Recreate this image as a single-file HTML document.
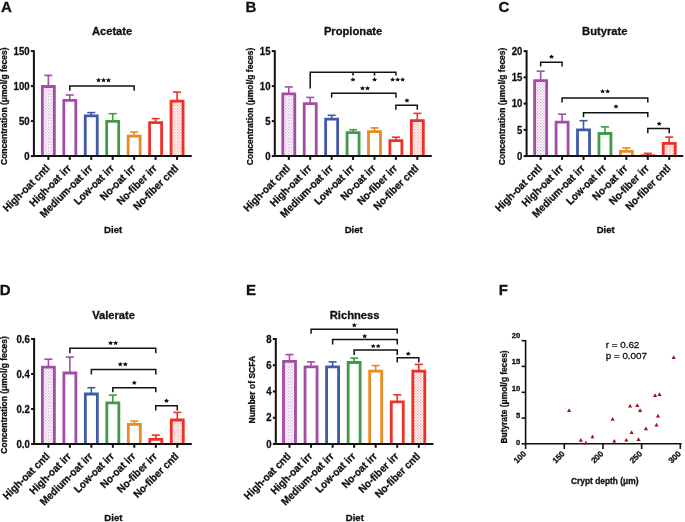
<!DOCTYPE html>
<html><head><meta charset="utf-8"><style>
html,body{margin:0;padding:0;background:#fff;}
body{width:685px;height:522px;overflow:hidden;}
svg{display:block;filter:blur(0.3px);}
text{stroke:#111;stroke-width:0.3px;}
</style></head><body>
<svg width="685" height="522" viewBox="0 0 685 522" font-family="'Liberation Sans', sans-serif" fill="#111">
<rect width="685" height="522" fill="#fff"/>
<defs><pattern id="pat0" width="3" height="3" patternUnits="userSpaceOnUse"><rect width="3" height="3" fill="#fff"/><rect x="0" y="0" width="1.5" height="1.5" fill="#A44BA8" fill-opacity="0.40"/><rect x="1.5" y="1.5" width="1.5" height="1.5" fill="#A44BA8" fill-opacity="0.26"/></pattern><pattern id="pat1" width="3" height="3" patternUnits="userSpaceOnUse"><rect width="3" height="3" fill="#fff"/><rect x="0" y="0" width="1.5" height="1.5" fill="#EE3026" fill-opacity="0.40"/><rect x="1.5" y="1.5" width="1.5" height="1.5" fill="#EE3026" fill-opacity="0.26"/></pattern></defs>
<line x1="48.35" y1="75.40" x2="48.35" y2="86.50" stroke="#A44BA8" stroke-width="1.6"/>
<line x1="44.35" y1="75.40" x2="52.35" y2="75.40" stroke="#A44BA8" stroke-width="1.6"/>
<rect x="42.35" y="86.50" width="12.00" height="69.60" fill="url(#pat0)"/>
<path d="M42.35 156.10V86.50H54.35V156.10" fill="none" stroke="#A44BA8" stroke-width="2.8"/>
<line x1="69.80" y1="95.00" x2="69.80" y2="100.40" stroke="#A44BA8" stroke-width="1.6"/>
<line x1="65.80" y1="95.00" x2="73.80" y2="95.00" stroke="#A44BA8" stroke-width="1.6"/>
<rect x="63.80" y="100.40" width="12.00" height="55.70" fill="#fff"/>
<path d="M63.80 156.10V100.40H75.80V156.10" fill="none" stroke="#A44BA8" stroke-width="2.8"/>
<line x1="91.25" y1="112.60" x2="91.25" y2="115.80" stroke="#405AA8" stroke-width="1.6"/>
<line x1="87.25" y1="112.60" x2="95.25" y2="112.60" stroke="#405AA8" stroke-width="1.6"/>
<rect x="85.25" y="115.80" width="12.00" height="40.30" fill="#fff"/>
<path d="M85.25 156.10V115.80H97.25V156.10" fill="none" stroke="#405AA8" stroke-width="2.8"/>
<line x1="112.70" y1="113.70" x2="112.70" y2="121.30" stroke="#3E9C48" stroke-width="1.6"/>
<line x1="108.70" y1="113.70" x2="116.70" y2="113.70" stroke="#3E9C48" stroke-width="1.6"/>
<rect x="106.70" y="121.30" width="12.00" height="34.80" fill="#fff"/>
<path d="M106.70 156.10V121.30H118.70V156.10" fill="none" stroke="#3E9C48" stroke-width="2.8"/>
<line x1="134.15" y1="132.00" x2="134.15" y2="136.10" stroke="#E68C22" stroke-width="1.6"/>
<line x1="130.15" y1="132.00" x2="138.15" y2="132.00" stroke="#E68C22" stroke-width="1.6"/>
<rect x="128.15" y="136.10" width="12.00" height="20.00" fill="#fff"/>
<path d="M128.15 156.10V136.10H140.15V156.10" fill="none" stroke="#E68C22" stroke-width="2.8"/>
<line x1="155.60" y1="118.60" x2="155.60" y2="122.60" stroke="#EE3026" stroke-width="1.6"/>
<line x1="151.60" y1="118.60" x2="159.60" y2="118.60" stroke="#EE3026" stroke-width="1.6"/>
<rect x="149.60" y="122.60" width="12.00" height="33.50" fill="#fff"/>
<path d="M149.60 156.10V122.60H161.60V156.10" fill="none" stroke="#EE3026" stroke-width="2.8"/>
<line x1="177.05" y1="92.10" x2="177.05" y2="101.20" stroke="#EE3026" stroke-width="1.6"/>
<line x1="173.05" y1="92.10" x2="181.05" y2="92.10" stroke="#EE3026" stroke-width="1.6"/>
<rect x="171.05" y="101.20" width="12.00" height="54.90" fill="url(#pat1)"/>
<path d="M171.05 156.10V101.20H183.05V156.10" fill="none" stroke="#EE3026" stroke-width="2.8"/>
<path d="M33.90 50.20V156.10H191.70" fill="none" stroke="#111" stroke-width="2.0"/>
<line x1="30.90" y1="51.10" x2="33.90" y2="51.10" stroke="#111" stroke-width="2.0"/>
<text transform="translate(29.60,54.75) scale(0.914,1)" text-anchor="end" font-size="10.5" font-weight="bold">150</text>
<line x1="30.90" y1="86.10" x2="33.90" y2="86.10" stroke="#111" stroke-width="2.0"/>
<text transform="translate(29.60,89.75) scale(0.914,1)" text-anchor="end" font-size="10.5" font-weight="bold">100</text>
<line x1="30.90" y1="121.10" x2="33.90" y2="121.10" stroke="#111" stroke-width="2.0"/>
<text transform="translate(29.60,124.75) scale(0.914,1)" text-anchor="end" font-size="10.5" font-weight="bold">50</text>
<line x1="30.90" y1="156.10" x2="33.90" y2="156.10" stroke="#111" stroke-width="2.0"/>
<text transform="translate(29.60,159.75) scale(0.914,1)" text-anchor="end" font-size="10.5" font-weight="bold">0</text>
<line x1="48.35" y1="156.10" x2="48.35" y2="159.90" stroke="#111" stroke-width="2.0"/>
<text transform="translate(50.35,169.10) rotate(-45) scale(0.943,1)" text-anchor="end" font-size="10.6" font-weight="bold">High-oat cntl</text>
<line x1="69.80" y1="156.10" x2="69.80" y2="159.90" stroke="#111" stroke-width="2.0"/>
<text transform="translate(71.80,169.10) rotate(-45) scale(0.943,1)" text-anchor="end" font-size="10.6" font-weight="bold">High-oat irr</text>
<line x1="91.25" y1="156.10" x2="91.25" y2="159.90" stroke="#111" stroke-width="2.0"/>
<text transform="translate(93.25,169.10) rotate(-45) scale(0.943,1)" text-anchor="end" font-size="10.6" font-weight="bold">Medium-oat irr</text>
<line x1="112.70" y1="156.10" x2="112.70" y2="159.90" stroke="#111" stroke-width="2.0"/>
<text transform="translate(114.70,169.10) rotate(-45) scale(0.943,1)" text-anchor="end" font-size="10.6" font-weight="bold">Low-oat irr</text>
<line x1="134.15" y1="156.10" x2="134.15" y2="159.90" stroke="#111" stroke-width="2.0"/>
<text transform="translate(136.15,169.10) rotate(-45) scale(0.943,1)" text-anchor="end" font-size="10.6" font-weight="bold">No-oat irr</text>
<line x1="155.60" y1="156.10" x2="155.60" y2="159.90" stroke="#111" stroke-width="2.0"/>
<text transform="translate(157.60,169.10) rotate(-45) scale(0.943,1)" text-anchor="end" font-size="10.6" font-weight="bold">No-fiber irr</text>
<line x1="177.05" y1="156.10" x2="177.05" y2="159.90" stroke="#111" stroke-width="2.0"/>
<text transform="translate(179.05,169.10) rotate(-45) scale(0.943,1)" text-anchor="end" font-size="10.6" font-weight="bold">No-fiber cntl</text>
<path d="M69.80 90.80V86.10H134.15V90.80" fill="none" stroke="#111" stroke-width="1.5"/>
<polygon points="98.50,77.87 99.29,79.27 101.06,79.50 99.78,80.59 100.08,82.13 98.50,81.40 96.92,82.13 97.22,80.59 95.94,79.50 97.71,79.27" fill="#111"/>
<polygon points="103.50,77.87 104.29,79.27 106.06,79.50 104.78,80.59 105.08,82.13 103.50,81.40 101.92,82.13 102.22,80.59 100.94,79.50 102.71,79.27" fill="#111"/>
<polygon points="108.50,77.87 109.29,79.27 111.06,79.50 109.78,80.59 110.08,82.13 108.50,81.40 106.92,82.13 107.22,80.59 105.94,79.50 107.71,79.27" fill="#111"/>
<text x="1.1" y="11.9" font-size="15" font-weight="bold">A</text>
<text x="112.1" y="35" text-anchor="middle" font-size="11.2" font-weight="bold">Acetate</text>
<text transform="translate(7.2,106.2) rotate(-90)" text-anchor="middle" font-size="8.5" font-weight="bold">Concentration (μmol/g feces)</text>
<text x="113.1" y="232.8" text-anchor="middle" font-size="9.6" font-weight="bold">Diet</text>
<line x1="288.80" y1="86.90" x2="288.80" y2="93.80" stroke="#A44BA8" stroke-width="1.6"/>
<line x1="284.80" y1="86.90" x2="292.80" y2="86.90" stroke="#A44BA8" stroke-width="1.6"/>
<rect x="282.80" y="93.80" width="12.00" height="62.30" fill="url(#pat0)"/>
<path d="M282.80 156.10V93.80H294.80V156.10" fill="none" stroke="#A44BA8" stroke-width="2.8"/>
<line x1="310.22" y1="97.40" x2="310.22" y2="103.70" stroke="#A44BA8" stroke-width="1.6"/>
<line x1="306.22" y1="97.40" x2="314.22" y2="97.40" stroke="#A44BA8" stroke-width="1.6"/>
<rect x="304.22" y="103.70" width="12.00" height="52.40" fill="#fff"/>
<path d="M304.22 156.10V103.70H316.22V156.10" fill="none" stroke="#A44BA8" stroke-width="2.8"/>
<line x1="331.64" y1="115.30" x2="331.64" y2="119.10" stroke="#405AA8" stroke-width="1.6"/>
<line x1="327.64" y1="115.30" x2="335.64" y2="115.30" stroke="#405AA8" stroke-width="1.6"/>
<rect x="325.64" y="119.10" width="12.00" height="37.00" fill="#fff"/>
<path d="M325.64 156.10V119.10H337.64V156.10" fill="none" stroke="#405AA8" stroke-width="2.8"/>
<line x1="353.06" y1="129.70" x2="353.06" y2="132.70" stroke="#3E9C48" stroke-width="1.6"/>
<line x1="349.06" y1="129.70" x2="357.06" y2="129.70" stroke="#3E9C48" stroke-width="1.6"/>
<rect x="347.06" y="132.70" width="12.00" height="23.40" fill="#fff"/>
<path d="M347.06 156.10V132.70H359.06V156.10" fill="none" stroke="#3E9C48" stroke-width="2.8"/>
<line x1="374.48" y1="127.90" x2="374.48" y2="131.70" stroke="#E68C22" stroke-width="1.6"/>
<line x1="370.48" y1="127.90" x2="378.48" y2="127.90" stroke="#E68C22" stroke-width="1.6"/>
<rect x="368.48" y="131.70" width="12.00" height="24.40" fill="#fff"/>
<path d="M368.48 156.10V131.70H380.48V156.10" fill="none" stroke="#E68C22" stroke-width="2.8"/>
<line x1="395.90" y1="137.20" x2="395.90" y2="140.70" stroke="#EE3026" stroke-width="1.6"/>
<line x1="391.90" y1="137.20" x2="399.90" y2="137.20" stroke="#EE3026" stroke-width="1.6"/>
<rect x="389.90" y="140.70" width="12.00" height="15.40" fill="#fff"/>
<path d="M389.90 156.10V140.70H401.90V156.10" fill="none" stroke="#EE3026" stroke-width="2.8"/>
<line x1="417.32" y1="113.40" x2="417.32" y2="120.70" stroke="#EE3026" stroke-width="1.6"/>
<line x1="413.32" y1="113.40" x2="421.32" y2="113.40" stroke="#EE3026" stroke-width="1.6"/>
<rect x="411.32" y="120.70" width="12.00" height="35.40" fill="url(#pat1)"/>
<path d="M411.32 156.10V120.70H423.32V156.10" fill="none" stroke="#EE3026" stroke-width="2.8"/>
<path d="M274.80 50.20V156.10H431.80" fill="none" stroke="#111" stroke-width="2.0"/>
<line x1="271.80" y1="51.10" x2="274.80" y2="51.10" stroke="#111" stroke-width="2.0"/>
<text transform="translate(270.50,54.75) scale(0.914,1)" text-anchor="end" font-size="10.5" font-weight="bold">15</text>
<line x1="271.80" y1="86.10" x2="274.80" y2="86.10" stroke="#111" stroke-width="2.0"/>
<text transform="translate(270.50,89.75) scale(0.914,1)" text-anchor="end" font-size="10.5" font-weight="bold">10</text>
<line x1="271.80" y1="121.10" x2="274.80" y2="121.10" stroke="#111" stroke-width="2.0"/>
<text transform="translate(270.50,124.75) scale(0.914,1)" text-anchor="end" font-size="10.5" font-weight="bold">5</text>
<line x1="271.80" y1="156.10" x2="274.80" y2="156.10" stroke="#111" stroke-width="2.0"/>
<text transform="translate(270.50,159.75) scale(0.914,1)" text-anchor="end" font-size="10.5" font-weight="bold">0</text>
<line x1="288.80" y1="156.10" x2="288.80" y2="159.90" stroke="#111" stroke-width="2.0"/>
<text transform="translate(290.80,169.10) rotate(-45) scale(0.943,1)" text-anchor="end" font-size="10.6" font-weight="bold">High-oat cntl</text>
<line x1="310.22" y1="156.10" x2="310.22" y2="159.90" stroke="#111" stroke-width="2.0"/>
<text transform="translate(312.22,169.10) rotate(-45) scale(0.943,1)" text-anchor="end" font-size="10.6" font-weight="bold">High-oat irr</text>
<line x1="331.64" y1="156.10" x2="331.64" y2="159.90" stroke="#111" stroke-width="2.0"/>
<text transform="translate(333.64,169.10) rotate(-45) scale(0.943,1)" text-anchor="end" font-size="10.6" font-weight="bold">Medium-oat irr</text>
<line x1="353.06" y1="156.10" x2="353.06" y2="159.90" stroke="#111" stroke-width="2.0"/>
<text transform="translate(355.06,169.10) rotate(-45) scale(0.943,1)" text-anchor="end" font-size="10.6" font-weight="bold">Low-oat irr</text>
<line x1="374.48" y1="156.10" x2="374.48" y2="159.90" stroke="#111" stroke-width="2.0"/>
<text transform="translate(376.48,169.10) rotate(-45) scale(0.943,1)" text-anchor="end" font-size="10.6" font-weight="bold">No-oat irr</text>
<line x1="395.90" y1="156.10" x2="395.90" y2="159.90" stroke="#111" stroke-width="2.0"/>
<text transform="translate(397.90,169.10) rotate(-45) scale(0.943,1)" text-anchor="end" font-size="10.6" font-weight="bold">No-fiber irr</text>
<line x1="417.32" y1="156.10" x2="417.32" y2="159.90" stroke="#111" stroke-width="2.0"/>
<text transform="translate(419.32,169.10) rotate(-45) scale(0.943,1)" text-anchor="end" font-size="10.6" font-weight="bold">No-fiber cntl</text>
<path d="M310.22 88.60V72.30H395.90V75.60" fill="none" stroke="#111" stroke-width="1.5"/>
<line x1="353.06" y1="72.30" x2="353.06" y2="75.60" stroke="#111" stroke-width="1.6"/>
<line x1="374.48" y1="72.30" x2="374.48" y2="75.60" stroke="#111" stroke-width="1.6"/>
<path d="M331.64 97.70V93.30H395.90V97.70" fill="none" stroke="#111" stroke-width="1.5"/>
<path d="M395.90 109.70V105.30H417.32V109.70" fill="none" stroke="#111" stroke-width="1.5"/>
<polygon points="352.90,77.27 353.69,78.67 355.46,78.90 354.18,79.99 354.48,81.53 352.90,80.80 351.32,81.53 351.62,79.99 350.34,78.90 352.11,78.67" fill="#111"/>
<polygon points="374.60,77.27 375.39,78.67 377.16,78.90 375.88,79.99 376.18,81.53 374.60,80.80 373.02,81.53 373.32,79.99 372.04,78.90 373.81,78.67" fill="#111"/>
<polygon points="392.60,77.27 393.39,78.67 395.16,78.90 393.88,79.99 394.18,81.53 392.60,80.80 391.02,81.53 391.32,79.99 390.04,78.90 391.81,78.67" fill="#111"/>
<polygon points="397.60,77.27 398.39,78.67 400.16,78.90 398.88,79.99 399.18,81.53 397.60,80.80 396.02,81.53 396.32,79.99 395.04,78.90 396.81,78.67" fill="#111"/>
<polygon points="402.60,77.27 403.39,78.67 405.16,78.90 403.88,79.99 404.18,81.53 402.60,80.80 401.02,81.53 401.32,79.99 400.04,78.90 401.81,78.67" fill="#111"/>
<polygon points="362.50,85.97 363.29,87.37 365.06,87.60 363.78,88.69 364.08,90.23 362.50,89.50 360.92,90.23 361.22,88.69 359.94,87.60 361.71,87.37" fill="#111"/>
<polygon points="367.50,85.97 368.29,87.37 370.06,87.60 368.78,88.69 369.08,90.23 367.50,89.50 365.92,90.23 366.22,88.69 364.94,87.60 366.71,87.37" fill="#111"/>
<polygon points="407.00,98.17 407.79,99.57 409.56,99.80 408.28,100.89 408.58,102.43 407.00,101.70 405.42,102.43 405.72,100.89 404.44,99.80 406.21,99.57" fill="#111"/>
<text x="245.5" y="11.799999999999999" font-size="15" font-weight="bold">B</text>
<text x="353.1" y="35" text-anchor="middle" font-size="11.2" font-weight="bold">Propionate</text>
<text transform="translate(253.3,106.4) rotate(-90)" text-anchor="middle" font-size="8.5" font-weight="bold">Concentration (μmol/g feces)</text>
<text x="353.7" y="232.8" text-anchor="middle" font-size="9.6" font-weight="bold">Diet</text>
<line x1="540.65" y1="71.20" x2="540.65" y2="80.60" stroke="#A44BA8" stroke-width="1.6"/>
<line x1="536.65" y1="71.20" x2="544.65" y2="71.20" stroke="#A44BA8" stroke-width="1.6"/>
<rect x="534.65" y="80.60" width="12.00" height="75.50" fill="url(#pat0)"/>
<path d="M534.65 156.10V80.60H546.65V156.10" fill="none" stroke="#A44BA8" stroke-width="2.8"/>
<line x1="562.08" y1="114.20" x2="562.08" y2="122.20" stroke="#A44BA8" stroke-width="1.6"/>
<line x1="558.08" y1="114.20" x2="566.08" y2="114.20" stroke="#A44BA8" stroke-width="1.6"/>
<rect x="556.08" y="122.20" width="12.00" height="33.90" fill="#fff"/>
<path d="M556.08 156.10V122.20H568.08V156.10" fill="none" stroke="#A44BA8" stroke-width="2.8"/>
<line x1="583.51" y1="120.70" x2="583.51" y2="129.80" stroke="#405AA8" stroke-width="1.6"/>
<line x1="579.51" y1="120.70" x2="587.51" y2="120.70" stroke="#405AA8" stroke-width="1.6"/>
<rect x="577.51" y="129.80" width="12.00" height="26.30" fill="#fff"/>
<path d="M577.51 156.10V129.80H589.51V156.10" fill="none" stroke="#405AA8" stroke-width="2.8"/>
<line x1="604.94" y1="126.90" x2="604.94" y2="133.50" stroke="#3E9C48" stroke-width="1.6"/>
<line x1="600.94" y1="126.90" x2="608.94" y2="126.90" stroke="#3E9C48" stroke-width="1.6"/>
<rect x="598.94" y="133.50" width="12.00" height="22.60" fill="#fff"/>
<path d="M598.94 156.10V133.50H610.94V156.10" fill="none" stroke="#3E9C48" stroke-width="2.8"/>
<line x1="626.37" y1="147.90" x2="626.37" y2="151.40" stroke="#E68C22" stroke-width="1.6"/>
<line x1="622.37" y1="147.90" x2="630.37" y2="147.90" stroke="#E68C22" stroke-width="1.6"/>
<rect x="620.37" y="151.40" width="12.00" height="4.70" fill="#fff"/>
<path d="M620.37 156.10V151.40H632.37V156.10" fill="none" stroke="#E68C22" stroke-width="2.8"/>
<line x1="647.80" y1="153.40" x2="647.80" y2="155.80" stroke="#EE3026" stroke-width="1.6"/>
<line x1="643.80" y1="153.40" x2="651.80" y2="153.40" stroke="#EE3026" stroke-width="1.6"/>
<rect x="640.40" y="154.40" width="14.80" height="1.70" fill="#EE3026"/>
<line x1="669.23" y1="137.10" x2="669.23" y2="143.40" stroke="#EE3026" stroke-width="1.6"/>
<line x1="665.23" y1="137.10" x2="673.23" y2="137.10" stroke="#EE3026" stroke-width="1.6"/>
<rect x="663.23" y="143.40" width="12.00" height="12.70" fill="url(#pat1)"/>
<path d="M663.23 156.10V143.40H675.23V156.10" fill="none" stroke="#EE3026" stroke-width="2.8"/>
<path d="M526.60 50.20V156.10H683.30" fill="none" stroke="#111" stroke-width="2.0"/>
<line x1="523.60" y1="51.10" x2="526.60" y2="51.10" stroke="#111" stroke-width="2.0"/>
<text transform="translate(522.30,54.75) scale(0.914,1)" text-anchor="end" font-size="10.5" font-weight="bold">20</text>
<line x1="523.60" y1="77.35" x2="526.60" y2="77.35" stroke="#111" stroke-width="2.0"/>
<text transform="translate(522.30,81.00) scale(0.914,1)" text-anchor="end" font-size="10.5" font-weight="bold">15</text>
<line x1="523.60" y1="103.60" x2="526.60" y2="103.60" stroke="#111" stroke-width="2.0"/>
<text transform="translate(522.30,107.25) scale(0.914,1)" text-anchor="end" font-size="10.5" font-weight="bold">10</text>
<line x1="523.60" y1="129.85" x2="526.60" y2="129.85" stroke="#111" stroke-width="2.0"/>
<text transform="translate(522.30,133.50) scale(0.914,1)" text-anchor="end" font-size="10.5" font-weight="bold">5</text>
<line x1="523.60" y1="156.10" x2="526.60" y2="156.10" stroke="#111" stroke-width="2.0"/>
<text transform="translate(522.30,159.75) scale(0.914,1)" text-anchor="end" font-size="10.5" font-weight="bold">0</text>
<line x1="540.65" y1="156.10" x2="540.65" y2="159.90" stroke="#111" stroke-width="2.0"/>
<text transform="translate(542.65,169.10) rotate(-45) scale(0.943,1)" text-anchor="end" font-size="10.6" font-weight="bold">High-oat cntl</text>
<line x1="562.08" y1="156.10" x2="562.08" y2="159.90" stroke="#111" stroke-width="2.0"/>
<text transform="translate(564.08,169.10) rotate(-45) scale(0.943,1)" text-anchor="end" font-size="10.6" font-weight="bold">High-oat irr</text>
<line x1="583.51" y1="156.10" x2="583.51" y2="159.90" stroke="#111" stroke-width="2.0"/>
<text transform="translate(585.51,169.10) rotate(-45) scale(0.943,1)" text-anchor="end" font-size="10.6" font-weight="bold">Medium-oat irr</text>
<line x1="604.94" y1="156.10" x2="604.94" y2="159.90" stroke="#111" stroke-width="2.0"/>
<text transform="translate(606.94,169.10) rotate(-45) scale(0.943,1)" text-anchor="end" font-size="10.6" font-weight="bold">Low-oat irr</text>
<line x1="626.37" y1="156.10" x2="626.37" y2="159.90" stroke="#111" stroke-width="2.0"/>
<text transform="translate(628.37,169.10) rotate(-45) scale(0.943,1)" text-anchor="end" font-size="10.6" font-weight="bold">No-oat irr</text>
<line x1="647.80" y1="156.10" x2="647.80" y2="159.90" stroke="#111" stroke-width="2.0"/>
<text transform="translate(649.80,169.10) rotate(-45) scale(0.943,1)" text-anchor="end" font-size="10.6" font-weight="bold">No-fiber irr</text>
<line x1="669.23" y1="156.10" x2="669.23" y2="159.90" stroke="#111" stroke-width="2.0"/>
<text transform="translate(671.23,169.10) rotate(-45) scale(0.943,1)" text-anchor="end" font-size="10.6" font-weight="bold">No-fiber cntl</text>
<path d="M540.65 66.60V62.20H562.08V66.60" fill="none" stroke="#111" stroke-width="1.5"/>
<path d="M562.08 102.60V97.90H647.80V102.60" fill="none" stroke="#111" stroke-width="1.5"/>
<path d="M583.51 117.30V112.80H647.80V117.30" fill="none" stroke="#111" stroke-width="1.5"/>
<path d="M647.80 133.20V128.60H669.23V133.20" fill="none" stroke="#111" stroke-width="1.5"/>
<polygon points="551.50,54.47 552.29,55.87 554.06,56.10 552.78,57.19 553.08,58.73 551.50,58.00 549.92,58.73 550.22,57.19 548.94,56.10 550.71,55.87" fill="#111"/>
<polygon points="602.60,89.07 603.39,90.47 605.16,90.70 603.88,91.79 604.18,93.33 602.60,92.60 601.02,93.33 601.32,91.79 600.04,90.70 601.81,90.47" fill="#111"/>
<polygon points="607.60,89.07 608.39,90.47 610.16,90.70 608.88,91.79 609.18,93.33 607.60,92.60 606.02,93.33 606.32,91.79 605.04,90.70 606.81,90.47" fill="#111"/>
<polygon points="616.00,104.17 616.79,105.57 618.56,105.80 617.28,106.89 617.58,108.43 616.00,107.70 614.42,108.43 614.72,106.89 613.44,105.80 615.21,105.57" fill="#111"/>
<polygon points="659.20,121.47 659.99,122.87 661.76,123.10 660.48,124.19 660.78,125.73 659.20,125.00 657.62,125.73 657.92,124.19 656.64,123.10 658.41,122.87" fill="#111"/>
<text x="498.6" y="11.799999999999999" font-size="15" font-weight="bold">C</text>
<text x="604.8" y="35" text-anchor="middle" font-size="11.2" font-weight="bold">Butyrate</text>
<text transform="translate(504.8,106.4) rotate(-90)" text-anchor="middle" font-size="8.5" font-weight="bold">Concentration (μmol/g feces)</text>
<text x="605.7" y="232.8" text-anchor="middle" font-size="9.6" font-weight="bold">Diet</text>
<line x1="48.40" y1="359.20" x2="48.40" y2="367.20" stroke="#A44BA8" stroke-width="1.6"/>
<line x1="44.40" y1="359.20" x2="52.40" y2="359.20" stroke="#A44BA8" stroke-width="1.6"/>
<rect x="42.40" y="367.20" width="12.00" height="76.80" fill="url(#pat0)"/>
<path d="M42.40 444.00V367.20H54.40V444.00" fill="none" stroke="#A44BA8" stroke-width="2.8"/>
<line x1="69.88" y1="357.10" x2="69.88" y2="373.00" stroke="#A44BA8" stroke-width="1.6"/>
<line x1="65.88" y1="357.10" x2="73.88" y2="357.10" stroke="#A44BA8" stroke-width="1.6"/>
<rect x="63.88" y="373.00" width="12.00" height="71.00" fill="#fff"/>
<path d="M63.88 444.00V373.00H75.88V444.00" fill="none" stroke="#A44BA8" stroke-width="2.8"/>
<line x1="91.36" y1="387.70" x2="91.36" y2="394.00" stroke="#405AA8" stroke-width="1.6"/>
<line x1="87.36" y1="387.70" x2="95.36" y2="387.70" stroke="#405AA8" stroke-width="1.6"/>
<rect x="85.36" y="394.00" width="12.00" height="50.00" fill="#fff"/>
<path d="M85.36 444.00V394.00H97.36V444.00" fill="none" stroke="#405AA8" stroke-width="2.8"/>
<line x1="112.84" y1="395.10" x2="112.84" y2="402.80" stroke="#3E9C48" stroke-width="1.6"/>
<line x1="108.84" y1="395.10" x2="116.84" y2="395.10" stroke="#3E9C48" stroke-width="1.6"/>
<rect x="106.84" y="402.80" width="12.00" height="41.20" fill="#fff"/>
<path d="M106.84 444.00V402.80H118.84V444.00" fill="none" stroke="#3E9C48" stroke-width="2.8"/>
<line x1="134.32" y1="421.10" x2="134.32" y2="424.40" stroke="#E68C22" stroke-width="1.6"/>
<line x1="130.32" y1="421.10" x2="138.32" y2="421.10" stroke="#E68C22" stroke-width="1.6"/>
<rect x="128.32" y="424.40" width="12.00" height="19.60" fill="#fff"/>
<path d="M128.32 444.00V424.40H140.32V444.00" fill="none" stroke="#E68C22" stroke-width="2.8"/>
<line x1="155.80" y1="435.10" x2="155.80" y2="439.30" stroke="#EE3026" stroke-width="1.6"/>
<line x1="151.80" y1="435.10" x2="159.80" y2="435.10" stroke="#EE3026" stroke-width="1.6"/>
<rect x="149.80" y="439.30" width="12.00" height="4.70" fill="#fff"/>
<path d="M149.80 444.00V439.30H161.80V444.00" fill="none" stroke="#EE3026" stroke-width="2.8"/>
<line x1="177.28" y1="412.40" x2="177.28" y2="420.00" stroke="#EE3026" stroke-width="1.6"/>
<line x1="173.28" y1="412.40" x2="181.28" y2="412.40" stroke="#EE3026" stroke-width="1.6"/>
<rect x="171.28" y="420.00" width="12.00" height="24.00" fill="url(#pat1)"/>
<path d="M171.28 444.00V420.00H183.28V444.00" fill="none" stroke="#EE3026" stroke-width="2.8"/>
<path d="M34.10 338.10V444.00H191.80" fill="none" stroke="#111" stroke-width="2.0"/>
<line x1="31.10" y1="339.00" x2="34.10" y2="339.00" stroke="#111" stroke-width="2.0"/>
<text transform="translate(29.80,342.65) scale(0.914,1)" text-anchor="end" font-size="10.5" font-weight="bold">0.6</text>
<line x1="31.10" y1="374.00" x2="34.10" y2="374.00" stroke="#111" stroke-width="2.0"/>
<text transform="translate(29.80,377.65) scale(0.914,1)" text-anchor="end" font-size="10.5" font-weight="bold">0.4</text>
<line x1="31.10" y1="409.00" x2="34.10" y2="409.00" stroke="#111" stroke-width="2.0"/>
<text transform="translate(29.80,412.65) scale(0.914,1)" text-anchor="end" font-size="10.5" font-weight="bold">0.2</text>
<line x1="31.10" y1="444.00" x2="34.10" y2="444.00" stroke="#111" stroke-width="2.0"/>
<text transform="translate(29.80,447.65) scale(0.914,1)" text-anchor="end" font-size="10.5" font-weight="bold">0.0</text>
<line x1="48.40" y1="444.00" x2="48.40" y2="447.80" stroke="#111" stroke-width="2.0"/>
<text transform="translate(50.40,457.00) rotate(-45) scale(0.943,1)" text-anchor="end" font-size="10.6" font-weight="bold">High-oat cntl</text>
<line x1="69.88" y1="444.00" x2="69.88" y2="447.80" stroke="#111" stroke-width="2.0"/>
<text transform="translate(71.88,457.00) rotate(-45) scale(0.943,1)" text-anchor="end" font-size="10.6" font-weight="bold">High-oat irr</text>
<line x1="91.36" y1="444.00" x2="91.36" y2="447.80" stroke="#111" stroke-width="2.0"/>
<text transform="translate(93.36,457.00) rotate(-45) scale(0.943,1)" text-anchor="end" font-size="10.6" font-weight="bold">Medium-oat irr</text>
<line x1="112.84" y1="444.00" x2="112.84" y2="447.80" stroke="#111" stroke-width="2.0"/>
<text transform="translate(114.84,457.00) rotate(-45) scale(0.943,1)" text-anchor="end" font-size="10.6" font-weight="bold">Low-oat irr</text>
<line x1="134.32" y1="444.00" x2="134.32" y2="447.80" stroke="#111" stroke-width="2.0"/>
<text transform="translate(136.32,457.00) rotate(-45) scale(0.943,1)" text-anchor="end" font-size="10.6" font-weight="bold">No-oat irr</text>
<line x1="155.80" y1="444.00" x2="155.80" y2="447.80" stroke="#111" stroke-width="2.0"/>
<text transform="translate(157.80,457.00) rotate(-45) scale(0.943,1)" text-anchor="end" font-size="10.6" font-weight="bold">No-fiber irr</text>
<line x1="177.28" y1="444.00" x2="177.28" y2="447.80" stroke="#111" stroke-width="2.0"/>
<text transform="translate(179.28,457.00) rotate(-45) scale(0.943,1)" text-anchor="end" font-size="10.6" font-weight="bold">No-fiber cntl</text>
<path d="M69.88 353.20V348.30H155.80V353.20" fill="none" stroke="#111" stroke-width="1.5"/>
<path d="M91.36 374.40V369.40H155.80V374.40" fill="none" stroke="#111" stroke-width="1.5"/>
<path d="M112.84 392.30V387.80H155.80V392.30" fill="none" stroke="#111" stroke-width="1.5"/>
<path d="M155.80 410.60V405.80H177.28V410.60" fill="none" stroke="#111" stroke-width="1.5"/>
<polygon points="110.60,340.67 111.39,342.07 113.16,342.30 111.88,343.39 112.18,344.93 110.60,344.20 109.02,344.93 109.32,343.39 108.04,342.30 109.81,342.07" fill="#111"/>
<polygon points="115.60,340.67 116.39,342.07 118.16,342.30 116.88,343.39 117.18,344.93 115.60,344.20 114.02,344.93 114.32,343.39 113.04,342.30 114.81,342.07" fill="#111"/>
<polygon points="120.30,361.97 121.09,363.37 122.86,363.60 121.58,364.69 121.88,366.23 120.30,365.50 118.72,366.23 119.02,364.69 117.74,363.60 119.51,363.37" fill="#111"/>
<polygon points="125.30,361.97 126.09,363.37 127.86,363.60 126.58,364.69 126.88,366.23 125.30,365.50 123.72,366.23 124.02,364.69 122.74,363.60 124.51,363.37" fill="#111"/>
<polygon points="134.30,380.47 135.09,381.87 136.86,382.10 135.58,383.19 135.88,384.73 134.30,384.00 132.72,384.73 133.02,383.19 131.74,382.10 133.51,381.87" fill="#111"/>
<polygon points="166.50,398.47 167.29,399.87 169.06,400.10 167.78,401.19 168.08,402.73 166.50,402.00 164.92,402.73 165.22,401.19 163.94,400.10 165.71,399.87" fill="#111"/>
<text x="-0.2" y="295.3" font-size="15" font-weight="bold">D</text>
<text x="113.6" y="319" text-anchor="middle" font-size="11.2" font-weight="bold">Valerate</text>
<text transform="translate(7.3,394.9) rotate(-90)" text-anchor="middle" font-size="8.5" font-weight="bold">Concentration (μmol/g feces)</text>
<text x="113.4" y="520.8" text-anchor="middle" font-size="9.6" font-weight="bold">Diet</text>
<line x1="289.50" y1="354.60" x2="289.50" y2="361.30" stroke="#A44BA8" stroke-width="1.6"/>
<line x1="285.50" y1="354.60" x2="293.50" y2="354.60" stroke="#A44BA8" stroke-width="1.6"/>
<rect x="283.50" y="361.30" width="12.00" height="82.70" fill="url(#pat0)"/>
<path d="M283.50 444.00V361.30H295.50V444.00" fill="none" stroke="#A44BA8" stroke-width="2.8"/>
<line x1="311.05" y1="361.90" x2="311.05" y2="366.80" stroke="#A44BA8" stroke-width="1.6"/>
<line x1="307.05" y1="361.90" x2="315.05" y2="361.90" stroke="#A44BA8" stroke-width="1.6"/>
<rect x="305.05" y="366.80" width="12.00" height="77.20" fill="#fff"/>
<path d="M305.05 444.00V366.80H317.05V444.00" fill="none" stroke="#A44BA8" stroke-width="2.8"/>
<line x1="332.60" y1="361.90" x2="332.60" y2="366.80" stroke="#405AA8" stroke-width="1.6"/>
<line x1="328.60" y1="361.90" x2="336.60" y2="361.90" stroke="#405AA8" stroke-width="1.6"/>
<rect x="326.60" y="366.80" width="12.00" height="77.20" fill="#fff"/>
<path d="M326.60 444.00V366.80H338.60V444.00" fill="none" stroke="#405AA8" stroke-width="2.8"/>
<line x1="354.15" y1="358.10" x2="354.15" y2="362.50" stroke="#3E9C48" stroke-width="1.6"/>
<line x1="350.15" y1="358.10" x2="358.15" y2="358.10" stroke="#3E9C48" stroke-width="1.6"/>
<rect x="348.15" y="362.50" width="12.00" height="81.50" fill="#fff"/>
<path d="M348.15 444.00V362.50H360.15V444.00" fill="none" stroke="#3E9C48" stroke-width="2.8"/>
<line x1="375.70" y1="365.60" x2="375.70" y2="371.20" stroke="#E68C22" stroke-width="1.6"/>
<line x1="371.70" y1="365.60" x2="379.70" y2="365.60" stroke="#E68C22" stroke-width="1.6"/>
<rect x="369.70" y="371.20" width="12.00" height="72.80" fill="#fff"/>
<path d="M369.70 444.00V371.20H381.70V444.00" fill="none" stroke="#E68C22" stroke-width="2.8"/>
<line x1="397.25" y1="394.80" x2="397.25" y2="401.90" stroke="#EE3026" stroke-width="1.6"/>
<line x1="393.25" y1="394.80" x2="401.25" y2="394.80" stroke="#EE3026" stroke-width="1.6"/>
<rect x="391.25" y="401.90" width="12.00" height="42.10" fill="#fff"/>
<path d="M391.25 444.00V401.90H403.25V444.00" fill="none" stroke="#EE3026" stroke-width="2.8"/>
<line x1="418.80" y1="364.40" x2="418.80" y2="371.20" stroke="#EE3026" stroke-width="1.6"/>
<line x1="414.80" y1="364.40" x2="422.80" y2="364.40" stroke="#EE3026" stroke-width="1.6"/>
<rect x="412.80" y="371.20" width="12.00" height="72.80" fill="url(#pat1)"/>
<path d="M412.80 444.00V371.20H424.80V444.00" fill="none" stroke="#EE3026" stroke-width="2.8"/>
<path d="M275.80 338.10V444.00H433.40" fill="none" stroke="#111" stroke-width="2.0"/>
<line x1="272.80" y1="339.00" x2="275.80" y2="339.00" stroke="#111" stroke-width="2.0"/>
<text transform="translate(271.50,342.65) scale(0.914,1)" text-anchor="end" font-size="10.5" font-weight="bold">8</text>
<line x1="272.80" y1="365.25" x2="275.80" y2="365.25" stroke="#111" stroke-width="2.0"/>
<text transform="translate(271.50,368.90) scale(0.914,1)" text-anchor="end" font-size="10.5" font-weight="bold">6</text>
<line x1="272.80" y1="391.50" x2="275.80" y2="391.50" stroke="#111" stroke-width="2.0"/>
<text transform="translate(271.50,395.15) scale(0.914,1)" text-anchor="end" font-size="10.5" font-weight="bold">4</text>
<line x1="272.80" y1="417.75" x2="275.80" y2="417.75" stroke="#111" stroke-width="2.0"/>
<text transform="translate(271.50,421.40) scale(0.914,1)" text-anchor="end" font-size="10.5" font-weight="bold">2</text>
<line x1="272.80" y1="444.00" x2="275.80" y2="444.00" stroke="#111" stroke-width="2.0"/>
<text transform="translate(271.50,447.65) scale(0.914,1)" text-anchor="end" font-size="10.5" font-weight="bold">0</text>
<line x1="289.50" y1="444.00" x2="289.50" y2="447.80" stroke="#111" stroke-width="2.0"/>
<text transform="translate(291.50,457.00) rotate(-45) scale(0.943,1)" text-anchor="end" font-size="10.6" font-weight="bold">High-oat cntl</text>
<line x1="311.05" y1="444.00" x2="311.05" y2="447.80" stroke="#111" stroke-width="2.0"/>
<text transform="translate(313.05,457.00) rotate(-45) scale(0.943,1)" text-anchor="end" font-size="10.6" font-weight="bold">High-oat irr</text>
<line x1="332.60" y1="444.00" x2="332.60" y2="447.80" stroke="#111" stroke-width="2.0"/>
<text transform="translate(334.60,457.00) rotate(-45) scale(0.943,1)" text-anchor="end" font-size="10.6" font-weight="bold">Medium-oat irr</text>
<line x1="354.15" y1="444.00" x2="354.15" y2="447.80" stroke="#111" stroke-width="2.0"/>
<text transform="translate(356.15,457.00) rotate(-45) scale(0.943,1)" text-anchor="end" font-size="10.6" font-weight="bold">Low-oat irr</text>
<line x1="375.70" y1="444.00" x2="375.70" y2="447.80" stroke="#111" stroke-width="2.0"/>
<text transform="translate(377.70,457.00) rotate(-45) scale(0.943,1)" text-anchor="end" font-size="10.6" font-weight="bold">No-oat irr</text>
<line x1="397.25" y1="444.00" x2="397.25" y2="447.80" stroke="#111" stroke-width="2.0"/>
<text transform="translate(399.25,457.00) rotate(-45) scale(0.943,1)" text-anchor="end" font-size="10.6" font-weight="bold">No-fiber irr</text>
<line x1="418.80" y1="444.00" x2="418.80" y2="447.80" stroke="#111" stroke-width="2.0"/>
<text transform="translate(420.80,457.00) rotate(-45) scale(0.943,1)" text-anchor="end" font-size="10.6" font-weight="bold">No-fiber cntl</text>
<path d="M311.05 333.70V329.20H397.25V333.70" fill="none" stroke="#111" stroke-width="1.5"/>
<path d="M332.60 344.40V339.40H397.25V344.40" fill="none" stroke="#111" stroke-width="1.5"/>
<path d="M354.15 354.90V349.90H397.25V354.90" fill="none" stroke="#111" stroke-width="1.5"/>
<path d="M397.25 362.60V357.70H418.80V362.60" fill="none" stroke="#111" stroke-width="1.5"/>
<polygon points="354.30,322.87 355.09,324.27 356.86,324.50 355.58,325.59 355.88,327.13 354.30,326.40 352.72,327.13 353.02,325.59 351.74,324.50 353.51,324.27" fill="#111"/>
<polygon points="364.70,333.87 365.49,335.27 367.26,335.50 365.98,336.59 366.28,338.13 364.70,337.40 363.12,338.13 363.42,336.59 362.14,335.50 363.91,335.27" fill="#111"/>
<polygon points="373.20,343.77 373.99,345.17 375.76,345.40 374.48,346.49 374.78,348.03 373.20,347.30 371.62,348.03 371.92,346.49 370.64,345.40 372.41,345.17" fill="#111"/>
<polygon points="378.20,343.77 378.99,345.17 380.76,345.40 379.48,346.49 379.78,348.03 378.20,347.30 376.62,348.03 376.92,346.49 375.64,345.40 377.41,345.17" fill="#111"/>
<polygon points="408.30,351.47 409.09,352.87 410.86,353.10 409.58,354.19 409.88,355.73 408.30,355.00 406.72,355.73 407.02,354.19 405.74,353.10 407.51,352.87" fill="#111"/>
<text x="246.0" y="295.3" font-size="15" font-weight="bold">E</text>
<text x="354.6" y="319" text-anchor="middle" font-size="11.2" font-weight="bold">Richness</text>
<text transform="translate(254.8,389.7) rotate(-90)" text-anchor="middle" font-size="8.5" font-weight="bold">Number of SCFA</text>
<text x="354.8" y="520.8" text-anchor="middle" font-size="9.6" font-weight="bold">Diet</text>
<path d="M525.60 340.0V443.80H681.6" fill="none" stroke="#111" stroke-width="1.6"/>
<line x1="521.60" y1="340.70" x2="525.60" y2="340.70" stroke="#111" stroke-width="1.6"/>
<text x="520.3" y="337.80" text-anchor="end" font-size="7.6" font-weight="bold">20</text>
<line x1="521.60" y1="366.40" x2="525.60" y2="366.40" stroke="#111" stroke-width="1.6"/>
<text x="520.3" y="364.40" text-anchor="end" font-size="7.6" font-weight="bold">15</text>
<line x1="521.60" y1="392.30" x2="525.60" y2="392.30" stroke="#111" stroke-width="1.6"/>
<text x="520.3" y="391.10" text-anchor="end" font-size="7.6" font-weight="bold">10</text>
<line x1="521.60" y1="418.10" x2="525.60" y2="418.10" stroke="#111" stroke-width="1.6"/>
<text x="520.3" y="418.30" text-anchor="end" font-size="7.6" font-weight="bold">5</text>
<line x1="521.60" y1="443.80" x2="525.60" y2="443.80" stroke="#111" stroke-width="1.6"/>
<text x="520.3" y="445.10" text-anchor="end" font-size="7.6" font-weight="bold">0</text>
<line x1="525.60" y1="443.80" x2="525.60" y2="449.00" stroke="#111" stroke-width="1.6"/>
<text transform="translate(526.60,454.30) rotate(-45)" text-anchor="end" font-size="8.1" font-weight="bold">100</text>
<line x1="564.28" y1="443.80" x2="564.28" y2="449.00" stroke="#111" stroke-width="1.6"/>
<text transform="translate(565.28,454.30) rotate(-45)" text-anchor="end" font-size="8.1" font-weight="bold">150</text>
<line x1="602.96" y1="443.80" x2="602.96" y2="449.00" stroke="#111" stroke-width="1.6"/>
<text transform="translate(603.96,454.30) rotate(-45)" text-anchor="end" font-size="8.1" font-weight="bold">200</text>
<line x1="641.64" y1="443.80" x2="641.64" y2="449.00" stroke="#111" stroke-width="1.6"/>
<text transform="translate(642.64,454.30) rotate(-45)" text-anchor="end" font-size="8.1" font-weight="bold">250</text>
<line x1="680.32" y1="443.80" x2="680.32" y2="449.00" stroke="#111" stroke-width="1.6"/>
<text transform="translate(681.32,454.30) rotate(-45)" text-anchor="end" font-size="8.1" font-weight="bold">300</text>
<path d="M569.10 408.30L571.20 412.00H567.00Z" fill="#A3121C"/>
<path d="M580.80 438.10L582.90 441.80H578.70Z" fill="#A3121C"/>
<path d="M585.90 440.70L588.00 444.40H583.80Z" fill="#A3121C"/>
<path d="M592.50 434.60L594.60 438.30H590.40Z" fill="#A3121C"/>
<path d="M612.60 417.10L614.70 420.80H610.50Z" fill="#A3121C"/>
<path d="M614.30 438.90L616.40 442.60H612.20Z" fill="#A3121C"/>
<path d="M626.30 437.90L628.40 441.60H624.20Z" fill="#A3121C"/>
<path d="M630.10 403.90L632.20 407.60H628.00Z" fill="#A3121C"/>
<path d="M631.60 430.20L633.70 433.90H629.50Z" fill="#A3121C"/>
<path d="M637.30 403.30L639.40 407.00H635.20Z" fill="#A3121C"/>
<path d="M638.50 437.30L640.60 441.00H636.40Z" fill="#A3121C"/>
<path d="M640.10 408.20L642.20 411.90H638.00Z" fill="#A3121C"/>
<path d="M645.90 426.50L648.00 430.20H643.80Z" fill="#A3121C"/>
<path d="M655.10 393.20L657.20 396.90H653.00Z" fill="#A3121C"/>
<path d="M656.50 422.70L658.60 426.40H654.40Z" fill="#A3121C"/>
<path d="M658.00 413.70L660.10 417.40H655.90Z" fill="#A3121C"/>
<path d="M659.50 392.20L661.60 395.90H657.40Z" fill="#A3121C"/>
<path d="M673.70 355.30L675.80 359.00H671.60Z" fill="#A3121C"/>
<text x="605.8" y="347.5" font-size="9.8">r = 0.62</text>
<text x="605.8" y="359.0" font-size="9.8">p = 0.007</text>
<text x="604.7" y="484.2" text-anchor="middle" font-size="8.4" font-weight="bold">Crypt depth (μm)</text>
<text transform="translate(506.7,443.5) rotate(-90)" font-size="8.4" font-weight="bold">Butyrate (μmol/g feces)</text>
<text x="498.8" y="294.9" font-size="15" font-weight="bold">F</text>

</svg></body></html>
